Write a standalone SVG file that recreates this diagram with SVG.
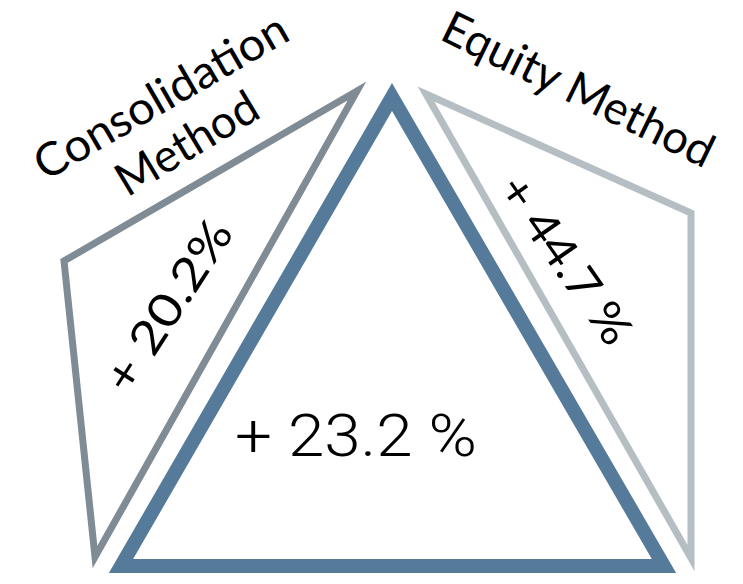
<svg xmlns="http://www.w3.org/2000/svg" width="743" height="584" viewBox="0 0 743 584">
<style>
.edge{fill:none;stroke-linejoin:miter;stroke-miterlimit:6}
.lbl{font-family:"Lato","Open Sans",sans-serif;font-weight:400;fill:#000;text-anchor:middle;dominant-baseline:central}
.big{font-family:"Roboto","Liberation Sans",Arial,sans-serif;font-weight:300;fill:#000;text-anchor:middle}
</style>
<rect width="743" height="584" fill="#fff"/>
<g id="connectors"></g>
<g id="consolidation">
<polygon class="edge" points="357,91 64,261 95,557" stroke="#808c95" stroke-width="7"/>
<text class="lbl" font-size="46" transform="translate(160,95) rotate(-30)" textLength="285" lengthAdjust="spacingAndGlyphs">Consolidation</text>
<text class="lbl" font-size="46" transform="translate(186,142) rotate(-31)" textLength="158" lengthAdjust="spacingAndGlyphs">Method</text>
<text class="lbl" font-size="46" transform="translate(167,305) rotate(-57)" textLength="195" lengthAdjust="spacingAndGlyphs">+ 20.2%</text>
</g>
<g id="equity">
<polygon class="edge" points="426,94 691,213 691,558" stroke="#b5bec3" stroke-width="7"/>
<text class="lbl" font-size="46" transform="translate(579,88) rotate(26)" textLength="296" lengthAdjust="spacingAndGlyphs">Equity Method</text>
<text class="lbl" font-size="46" transform="translate(567,259) rotate(55)" textLength="195" lengthAdjust="spacingAndGlyphs">+ 44.7 %</text>
</g>
<g id="total">
<polygon class="edge" points="392,97 121,566 664,566" stroke="#567a9a" stroke-width="14"/>
<text class="big" font-size="60" x="356" y="456" textLength="242" lengthAdjust="spacingAndGlyphs">+ 23.2 %</text>
</g>
</svg>
